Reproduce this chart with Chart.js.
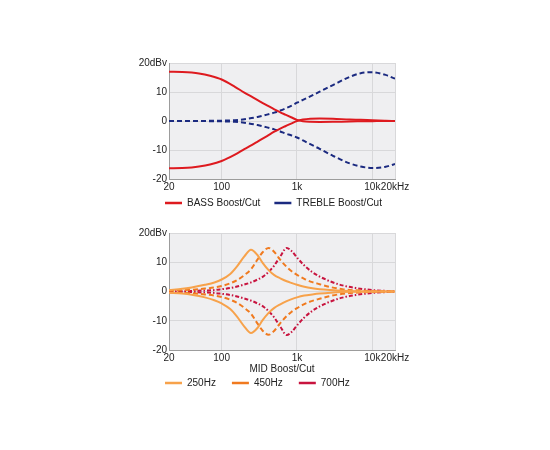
<!DOCTYPE html>
<html>
<head>
<meta charset="utf-8">
<script src="https://cdn.jsdelivr.net/npm/chart.js@4.4.0/dist/chart.umd.min.js"></script>
<style>
  body { margin: 0; background: #fff; }
  #wrap { position: relative; width: 550px; height: 450px; }
  .box { position: absolute; left: 0; width: 430px; }
  #top-box { top: 0; height: 230px; }
  #mid-box { top: 223px; height: 227px; }
</style>
</head>
<body>
<div id="wrap">
  <div class="box" id="top-box"><canvas id="toneChart"></canvas></div>
  <div class="box" id="mid-box"><canvas id="midChart"></canvas></div>
</div>
<script>
// axis ticks
var xTickValues = [20, 100, 1000, 10000, 20000];
var xTickLabels = ["20", "100", "1k", "10k", "20kHz"];
var yTickValues = [-20, -10, 0, 10, 20];
var yTickLabels = ["-20", "-10", "0", "10", "20dBv"];

// BASS / TREBLE (dBv vs Hz)
var topFreqs    = [20, 30, 40, 50, 70, 100, 150, 200, 250, 300, 400, 500, 600, 700, 850, 1000, 1200, 1500, 2000, 3000, 5000, 7000, 10000, 15000, 20000];
var bassBoost   = [17.0, 16.9, 16.7, 16.4, 15.6, 14.3, 11.8, 9.8, 8.4, 7.2, 5.4, 4.0, 3.0, 2.2, 1.2, 0.4, -0.1, -0.3, -0.35, -0.3, -0.15, -0.1, -0.05, 0, 0];
var bassCut     = [-16.3, -16.2, -16.0, -15.7, -15.0, -13.8, -11.6, -9.7, -8.3, -7.1, -5.2, -3.7, -2.6, -1.8, -0.8, 0, 0.5, 0.8, 0.9, 0.8, 0.5, 0.4, 0.25, 0.1, 0];
var trebleBoost = [0, 0, 0, 0, 0.05, 0.1, 0.3, 0.6, 1.0, 1.4, 2.2, 2.9, 3.6, 4.3, 5.3, 6.3, 7.3, 8.5, 10.1, 12.4, 15.2, 16.5, 16.8, 15.9, 14.6];
var trebleCut   = [0, 0, 0, 0, -0.05, -0.1, -0.3, -0.6, -1.0, -1.4, -2.2, -2.9, -3.6, -4.3, -5.0, -5.7, -6.7, -8.0, -9.6, -12.0, -14.6, -15.7, -16.2, -15.8, -14.8];

// MID (dBv vs Hz)
var midFreqs    = [20, 30, 40, 60, 80, 100, 130, 160, 200, 245, 300, 350, 420, 500, 600, 730, 850, 1000, 1250, 1600, 2000, 2800, 4000, 6000, 10000, 15000, 20000];
var mid250Boost = [0.5, 0.9, 1.4, 2.3, 3.1, 4.1, 6.0, 8.6, 12.0, 14.3, 12.4, 9.8, 7.3, 5.6, 4.5, 3.5, 2.9, 2.3, 1.6, 1.1, 0.8, 0.5, 0.25, 0.1, 0, 0, 0];
var mid250Cut   = [-0.4, -0.7, -1.1, -2.0, -3.0, -4.1, -6.0, -8.6, -12.0, -14.2, -12.4, -9.8, -7.3, -5.6, -4.4, -3.3, -2.6, -2.0, -1.4, -1.0, -0.7, -0.4, -0.2, -0.1, 0, 0, 0];
var mid450Boost = [0.3, 0.45, 0.6, 1.0, 1.4, 1.9, 2.8, 3.9, 5.6, 7.6, 11.0, 13.4, 14.9, 13.5, 10.8, 8.4, 6.9, 5.7, 4.3, 3.2, 2.5, 1.5, 0.8, 0.4, 0.15, 0.05, 0];
var mid450Cut   = [-0.3, -0.45, -0.6, -1.0, -1.4, -1.9, -2.8, -3.9, -5.6, -7.6, -11.0, -13.4, -14.8, -13.4, -10.8, -8.4, -6.9, -5.7, -4.3, -3.2, -2.5, -1.5, -0.8, -0.4, -0.15, -0.05, 0];
var mid700Boost = [0.1, 0.15, 0.2, 0.35, 0.5, 0.8, 1.2, 1.7, 2.4, 3.1, 4.1, 5.0, 6.7, 8.9, 12.0, 14.9, 13.8, 11.6, 8.9, 6.6, 5.1, 3.4, 2.1, 1.2, 0.5, 0.2, 0.1];
var mid700Cut   = [-0.1, -0.15, -0.2, -0.35, -0.5, -0.8, -1.2, -1.7, -2.4, -3.1, -4.1, -5.0, -6.7, -8.9, -12.0, -14.9, -13.8, -11.6, -8.9, -6.6, -5.1, -3.4, -2.1, -1.2, -0.5, -0.2, -0.1];

Chart.defaults.font.family = '"Liberation Sans", Arial, sans-serif';
Chart.defaults.font.size = 10;
Chart.defaults.color = "#222";

function toPoints(freqs, values) {
  return freqs.map(function(f, i) {
    return { x: f, y: values[i] };
  });
}

function curve(label, freqs, values, color, dash) {
  return {
    label: label,
    data: toPoints(freqs, values),
    borderColor: color,
    backgroundColor: color,
    borderWidth: 2,
    borderDash: dash,
    pointRadius: 0,
    cubicInterpolationMode: "monotone",
    fill: false
  };
}

// grey plot background
var plotBackground = {
  id: "plotBackground",
  beforeDraw: function(chart) {
    var a = chart.chartArea;
    var ctx = chart.ctx;
    ctx.save();
    ctx.fillStyle = "#efeff1";
    ctx.fillRect(a.left, a.top, a.right - a.left, a.bottom - a.top);
    ctx.restore();
  }
};

// move the legend row to where the picture has it (x = first line start, y = row middle)
var legendPlace = {
  id: "legendPlace",
  beforeDraw: function(chart, args, opts) {
    var legend = chart.legend;
    var pad = legend.options.labels.padding;
    var dx = opts.x - pad - legend.left;
    var dy = opts.y - pad - Chart.defaults.font.size / 2 - legend.top;
    legend.left += dx;
    legend.right += dx;
    legend.top += dy;
    legend.bottom += dy;
  }
};

function makeScales(xHeight, xTitle) {
  return {
    x: {
      type: "logarithmic",
      min: 20,
      max: 20000,
      afterBuildTicks: function(scale) {
        scale.ticks = xTickValues.map(function(v) { return { value: v }; });
      },
      afterFit: function(scale) { scale.height = xHeight; },
      ticks: {
        autoSkip: false,
        maxRotation: 0,
        padding: 2,
        callback: function(value) {
          return xTickLabels[xTickValues.indexOf(value)];
        }
      },
      grid: { color: "#d8d8da", drawTicks: false },
      border: { color: "#9c9c9c" },
      title: xTitle
    },
    y: {
      min: -20,
      max: 20,
      afterBuildTicks: function(scale) {
        scale.ticks = yTickValues.map(function(v) { return { value: v }; });
      },
      afterFit: function(scale) { scale.width = 109; },
      ticks: {
        padding: 2,
        callback: function(value) {
          return yTickLabels[yTickValues.indexOf(value)];
        }
      },
      grid: { color: "#d8d8da", drawTicks: false },
      border: { color: "#9c9c9c" }
    }
  };
}

function legendOptions(gap) {
  return {
    position: "bottom",
    align: "start",
    labels: {
      usePointStyle: true,
      pointStyle: "line",
      pointStyleWidth: 17,
      padding: gap,
      color: "#222",
      filter: function(item) { return item.datasetIndex % 2 === 0; },
      generateLabels: function(chart) {
        var items = Chart.defaults.plugins.legend.labels.generateLabels(chart);
        items.forEach(function(item) { item.lineWidth = 2.5; });
        return items;
      }
    }
  };
}

new Chart(document.getElementById("toneChart"), {
  type: "line",
  data: {
    datasets: [
      curve("BASS Boost/Cut", topFreqs, bassBoost, "#de1a1f", []),
      curve("BASS Cut", topFreqs, bassCut, "#de1a1f", []),
      curve("TREBLE Boost/Cut", topFreqs, trebleBoost, "#1b2a80", [5, 3]),
      curve("TREBLE Cut", topFreqs, trebleCut, "#1b2a80", [5, 3])
    ]
  },
  options: {
    responsive: true,
    maintainAspectRatio: false,
    animation: false,
    layout: { padding: { left: 60, right: 35, top: 63, bottom: 1 } },
    scales: makeScales(16, { display: false }),
    plugins: {
      legend: legendOptions(14),
      legendPlace: { x: 165, y: 203 },
      tooltip: { enabled: false }
    }
  },
  plugins: [plotBackground, legendPlace]
});

new Chart(document.getElementById("midChart"), {
  type: "line",
  data: {
    datasets: [
      curve("250Hz", midFreqs, mid250Boost, "#f7a24b", []),
      curve("250Hz cut", midFreqs, mid250Cut, "#f7a24b", []),
      curve("450Hz", midFreqs, mid450Boost, "#f07a1f", [5, 3]),
      curve("450Hz cut", midFreqs, mid450Cut, "#f07a1f", [5, 3]),
      curve("700Hz", midFreqs, mid700Boost, "#c8143f", [4, 2, 1.5, 2]),
      curve("700Hz cut", midFreqs, mid700Cut, "#c8143f", [4, 2, 1.5, 2])
    ]
  },
  options: {
    responsive: true,
    maintainAspectRatio: false,
    animation: false,
    layout: { padding: { left: 60, right: 35, top: 10, bottom: 39 } },
    scales: makeScales(25, {
      display: true,
      text: "MID Boost/Cut",
      color: "#222",
      padding: { top: 0, bottom: 0 }
    }),
    plugins: {
      legend: legendOptions(16),
      legendPlace: { x: 165, y: 160 },
      tooltip: { enabled: false }
    }
  },
  plugins: [plotBackground, legendPlace]
});
</script>
</body>
</html>
